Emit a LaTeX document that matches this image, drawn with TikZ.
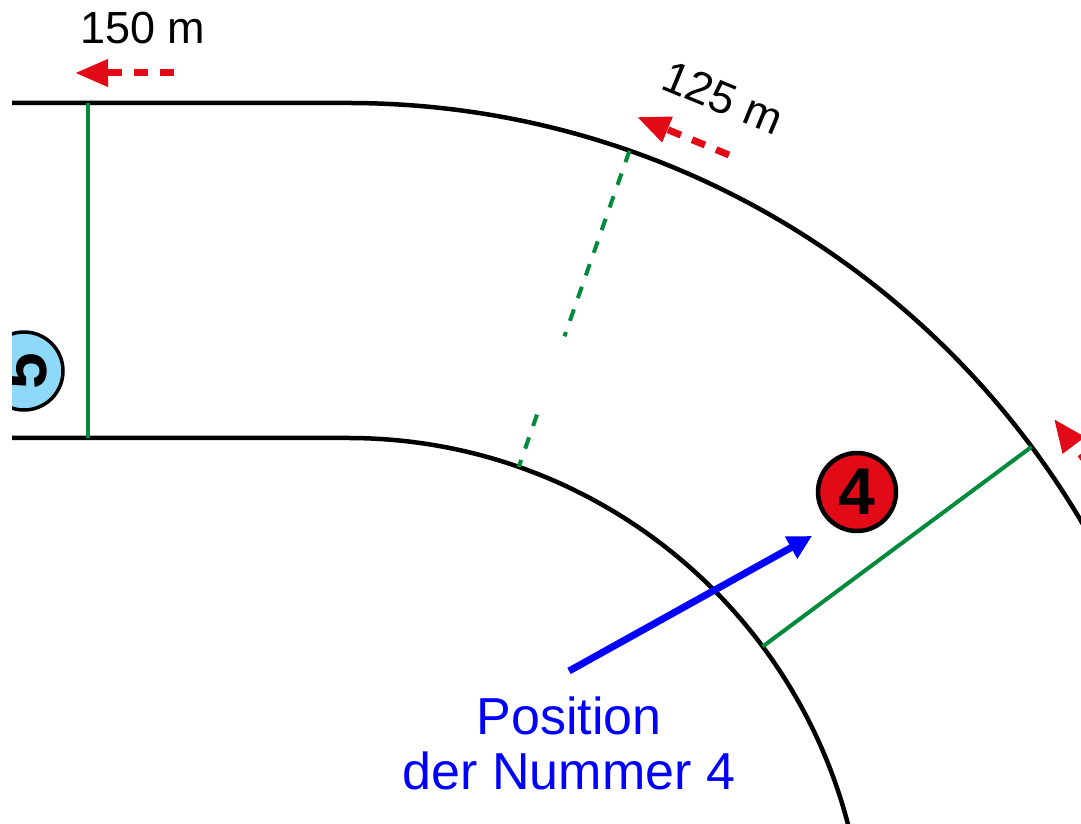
\documentclass[tikz,border=0pt]{standalone}
\usepackage{fontspec}
\setmainfont{Liberation Sans}
\usetikzlibrary{arrows.meta,calc}
\definecolor{tred}{HTML}{E30A17}
\definecolor{tgreen}{HTML}{008A3C}
\definecolor{tblue}{HTML}{0000FF}
\definecolor{tlblue}{HTML}{8ED8F8}
\tikzset{
  track/.style={line width=4.5pt,black},
  gline/.style={line width=4pt,tgreen},
  gdash/.style={gline,dash pattern=on 12pt off 12pt},
  redarrow/.style={line width=7pt,tred,dash pattern=on 14pt off 12pt,
    -{Triangle[length=33pt,width=26pt]}},
  bluearrow/.style={line width=7pt,tblue,-{Triangle[length=24pt,width=24pt]}},
  dist/.style={font=\fontsize{45}{50}\selectfont,inner sep=0pt},
  numcirc/.style={circle,draw=black,inner sep=0pt,minimum size=78pt,
    font=\fontsize{66}{66}\selectfont\bfseries},
}
\begin{document}
\begin{tikzpicture}[x=1pt,y=1pt]
\useasboundingbox (0,0) rectangle (1081,824);
\begin{scope}
\clip (12,0) rectangle (1081,824);
\coordinate (C) at (348,-130.5);
% track
\draw[track] (12,721) -- (348,721) arc[start angle=90,end angle=0,radius=851.5pt];
\draw[track] (12,386) -- (348,386) arc[start angle=90,end angle=0,radius=516.5pt];
% section lines
\draw[gline] (88,721) -- (88,386);
\draw[gline] ($(C)+(36.6:516.5pt)$) -- ($(C)+(36.6:851.5pt)$);
\draw[gdash] ($(C)+(70.7:851.5pt)$) -- ($(C)+(70.7:655pt)$);
\draw[gdash] ($(C)+(70.7:572pt)$) -- ($(C)+(70.7:516.5pt)$);
% number 5
\node[numcirc,fill=tlblue,line width=3.5pt,rotate=90] (n5) at (24,453) {5};
% distance markers
\coordinate (a150s) at (174,751);
\coordinate (a150e) at (75,751);
\draw[redarrow] (a150s) -- (a150e);
\node[dist,anchor=base] (l150) at (143,780) {150 m};
\coordinate (a125s) at (729,669);
\coordinate (a125e) at (637,707);
\draw[redarrow] (a125s) -- (a125e);
\node[dist,anchor=base,rotate=-22.4] (l125) at (717,712) {125 m};
\coordinate (a100s) at (1120,317);
\coordinate (a100e) at (1054,405);
\draw[redarrow] (a100s) -- (a100e);
% number 4
\node[numcirc,fill=tred,line width=4.5pt] (n4) at (857,332) {4};
\coordinate (bs) at (569,153);
\coordinate (be) at (812,288);
\draw[bluearrow] (bs) -- (be);
\node[anchor=south,align=center,inner sep=0pt,text=tblue,
  font=\fontsize{52}{55}\selectfont] (pos) at (569,34) {Position\\der Nummer 4};
\end{scope}
\end{tikzpicture}
\end{document}
